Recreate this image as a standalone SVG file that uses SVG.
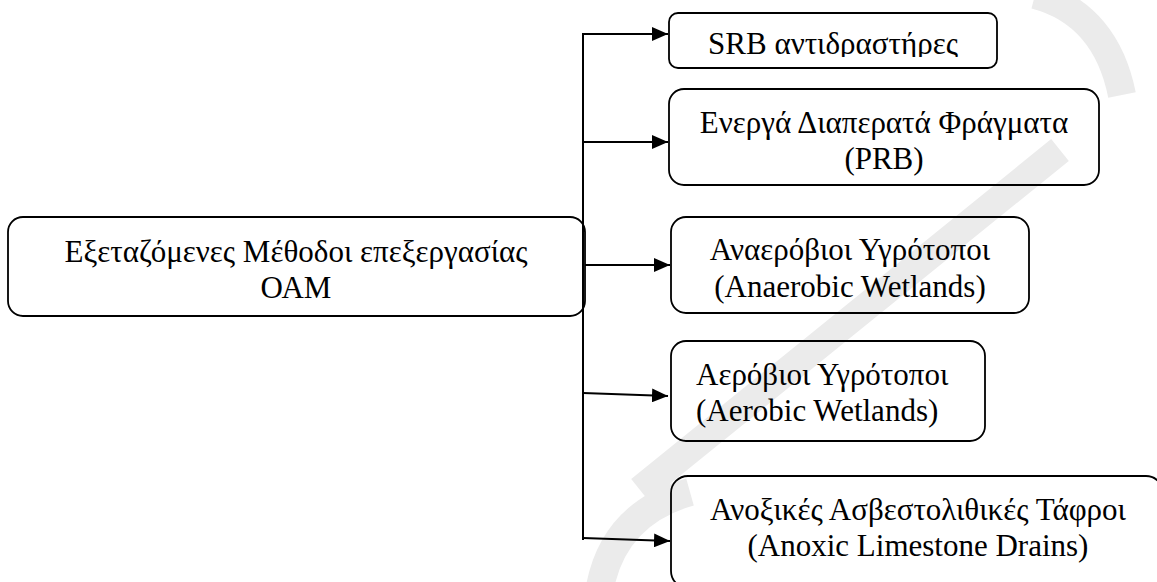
<svg xmlns="http://www.w3.org/2000/svg" width="1157" height="582" viewBox="0 0 1157 582">
<style>
.box{fill:none;stroke:#000;stroke-width:1.8}
.wm{fill:none;stroke:#ebebeb;stroke-width:28}
.con{fill:none;stroke:#000;stroke-width:2}
</style>
<defs>
<marker id="ah" markerUnits="userSpaceOnUse" markerWidth="16" markerHeight="14" refX="16" refY="7" orient="auto">
<path d="M0,0 L16,7 L0,14 Z" fill="#000"/>
</marker>
<clipPath id="srbclip"><rect x="669" y="13" width="328" height="44"/></clipPath>
</defs>
<rect width="1157" height="582" fill="#fff"/>
<g id="watermark">
<path class="wm" d="M1035,-5 C1085,8 1112,45 1122,95"/>
<path class="wm" d="M1060,150 L640,490"/>
<path class="wm" d="M598,600 Q608,515 690,492"/>
</g>
<g id="connectors">
<line class="con" x1="583" y1="33" x2="583" y2="540"/>
<line class="con" x1="582" y1="34" x2="668" y2="34" marker-end="url(#ah)"/>
<line class="con" x1="583" y1="142" x2="668" y2="142" marker-end="url(#ah)"/>
<line class="con" x1="585" y1="265" x2="670" y2="265" marker-end="url(#ah)"/>
<line class="con" x1="583" y1="393" x2="668" y2="396" marker-end="url(#ah)"/>
<line class="con" x1="583" y1="538" x2="670" y2="541" marker-end="url(#ah)"/>
</g>
<g font-family="Liberation Serif, Times New Roman, serif" font-size="31" fill="#000">
<g id="main" text-anchor="middle">
<rect class="box" x="8" y="217" width="577" height="99" rx="15"/>
<text x="296" y="262">Εξεταζόμενες Μέθοδοι επεξεργασίας</text>
<text x="296" y="298">ΟΑΜ</text>
</g>
<g id="srb" text-anchor="middle">
<rect class="box" x="669" y="13" width="328" height="55" rx="9"/>
<text x="833" y="54" clip-path="url(#srbclip)">SRB αντιδραστήρες</text>
</g>
<g id="prb" text-anchor="middle">
<rect class="box" x="669" y="89" width="430" height="96" rx="15"/>
<text x="884" y="133">Ενεργά Διαπερατά Φράγματα</text>
<text x="884" y="169">(PRB)</text>
</g>
<g id="anaerobic" text-anchor="middle">
<rect class="box" x="671" y="217" width="358" height="96" rx="15"/>
<text x="850" y="260">Αναερόβιοι Υγρότοποι</text>
<text x="850" y="297">(Anaerobic Wetlands)</text>
</g>
<g id="aerobic">
<rect class="box" x="671" y="341" width="314" height="100" rx="15"/>
<text x="696" y="385">Αερόβιοι Υγρότοποι</text>
<text x="696" y="421">(Aerobic Wetlands)</text>
</g>
<g id="anoxic" text-anchor="middle">
<rect class="box" x="671" y="476" width="492" height="112" rx="17"/>
<text x="918" y="520">Ανοξικές Ασβεστολιθικές Τάφροι</text>
<text x="918" y="556">(Anoxic Limestone Drains)</text>
</g>
</g>
</svg>
